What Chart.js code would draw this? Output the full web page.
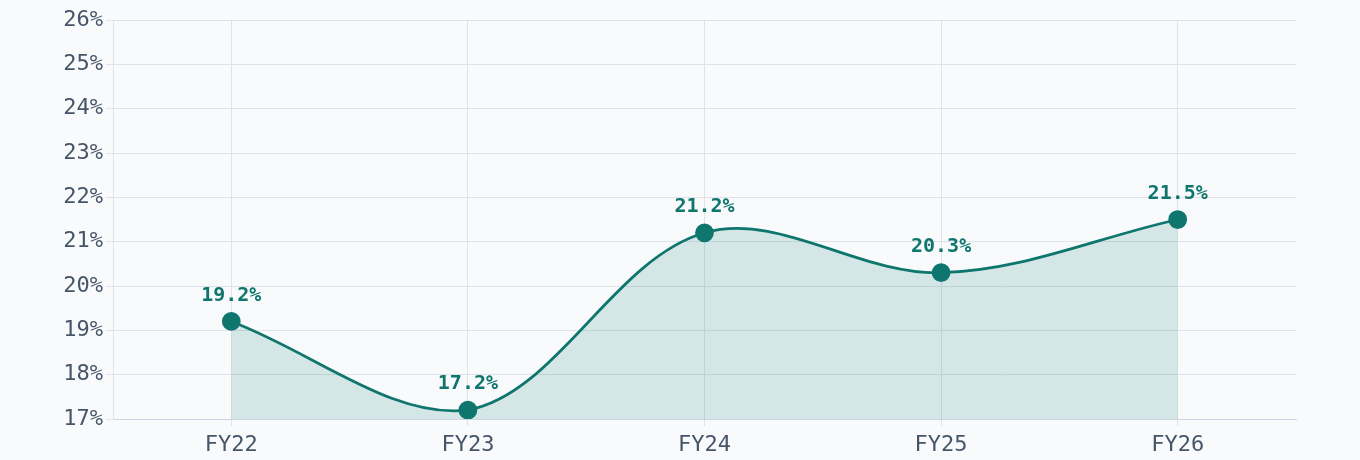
<!DOCTYPE html>
<html>
<head>
  <title>Margin trend</title>
  <script src="https://cdn.jsdelivr.net/npm/chart.js"></script>
  <style>
    html, body { margin: 0; padding: 0; background: #f8fafc; }
    #wrap { width: 1360px; height: 460px; }
  </style>
</head>
<body>
  <div id="wrap"><canvas id="chart"></canvas></div>
  <script>
    const years = ['FY22', 'FY23', 'FY24', 'FY25', 'FY26'];
    const margins = [19.2, 17.2, 21.2, 20.3, 21.5];
    const TEAL = '#0f766e';

    // draw value labels above each point
    const valueLabels = {
      id: 'valueLabels',
      afterDatasetsDraw(chart) {
        const ctx = chart.ctx;
        const meta = chart.getDatasetMeta(0);
        ctx.save();
        ctx.font = 'bold 20px "DejaVu Sans Mono"';
        ctx.fillStyle = TEAL;
        ctx.textAlign = 'center';
        ctx.textBaseline = 'middle';
        meta.data.forEach((pt, i) => {
          ctx.fillText(margins[i].toFixed(1) + '%', pt.x, pt.y - 26);
        });
        ctx.restore();
      }
    };

    new Chart(document.getElementById('chart'), {
      type: 'line',
      data: {
        labels: years,
        datasets: [{
          data: margins,
          borderColor: TEAL,
          borderWidth: 2.75,
          backgroundColor: 'rgba(15,118,110,0.15)',
          fill: 'start',
          tension: 0.35,
          pointRadius: 8,
          pointBackgroundColor: TEAL,
          pointBorderColor: TEAL
        }]
      },
      options: {
        responsive: true,
        maintainAspectRatio: false,
        animation: false,
        layout: { padding: { top: 20, right: 64, left: 0, bottom: 0 } },
        plugins: { legend: { display: false }, tooltip: { enabled: false } },
        scales: {
          x: {
            offset: true,
            afterFit(scale) { scale.height = 41; },
            grid: { color: '#dde3e8', offset: false, tickLength: 7 },
            border: { color: '#cbd5e1' },
            ticks: { color: '#475569', font: { family: 'DejaVu Sans Mono', size: 22 }, padding: 6 }
          },
          y: {
            min: 17,
            max: 26,
            afterFit(scale) { scale.width = 113; },
            grid: { color: '#dde3e8', tickLength: 7 },
            border: { color: '#dde3e8' },
            ticks: {
              stepSize: 1,
              color: '#475569',
              padding: 3,
              font: { family: 'DejaVu Sans Mono', size: 22 },
              callback: v => v + '%'
            }
          }
        }
      },
      plugins: [valueLabels]
    });
  </script>
</body>
</html>
